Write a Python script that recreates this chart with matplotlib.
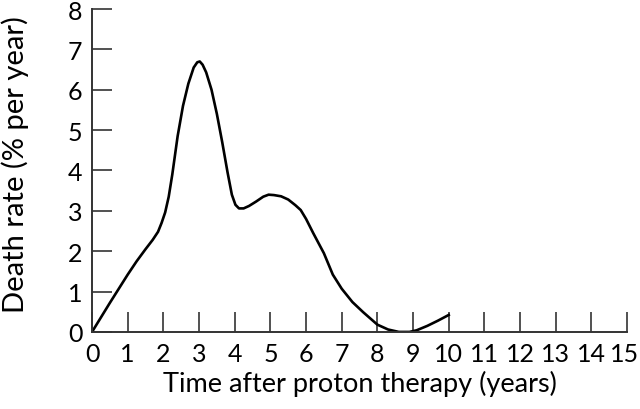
import matplotlib
matplotlib.use("Agg")
import matplotlib.pyplot as plt
from matplotlib.transforms import ScaledTranslation

years = [0, 0.5, 1.0, 1.25, 1.5, 1.7, 1.85, 1.95, 2.05, 2.15, 2.25, 2.4, 2.55,
         2.7, 2.85, 2.95, 3.02, 3.1, 3.2, 3.35, 3.5, 3.65, 3.8, 3.92, 4.02,
         4.12, 4.25, 4.4, 4.6, 4.8, 4.95, 5.1, 5.3, 5.5, 5.7, 5.85, 6.0, 6.2,
         6.5, 6.75, 7.0, 7.3, 7.6, 8.0, 8.3, 8.6, 8.9, 9.1, 9.4, 9.7, 10.0]
death_rate = [0, 0.72, 1.42, 1.75, 2.05, 2.28, 2.48, 2.7, 2.96, 3.35, 3.9,
              4.85, 5.6, 6.15, 6.55, 6.68, 6.7, 6.62, 6.43, 6.0, 5.4, 4.7,
              3.95, 3.4, 3.15, 3.06, 3.06, 3.12, 3.23, 3.35, 3.4, 3.39, 3.36,
              3.28, 3.14, 3.02, 2.8, 2.45, 1.95, 1.42, 1.07, 0.74, 0.49, 0.18,
              0.06, 0.0, 0.0, 0.04, 0.15, 0.28, 0.42]
x_ticks = list(range(0, 16))
y_ticks = list(range(0, 9))

plt.rcParams['font.family'] = ['Lato', 'DejaVu Sans']
fig = plt.figure(figsize=(6.4, 4.1), dpi=100)
ax = fig.add_axes([0.1438, 0.188, 0.836, 0.7876])
ax.plot(years, death_rate, color='black', lw=1.9, solid_joinstyle='round')
ax.set_xlim(0, 15)
ax.set_ylim(0, 8)
ax.set_xticks(x_ticks)
ax.set_yticks(y_ticks)
ax.spines['top'].set_visible(False)
ax.spines['right'].set_visible(False)
for s in ('left', 'bottom'):
    ax.spines[s].set_color('#333333')
    ax.spines[s].set_linewidth(1.4)
ax.tick_params(direction='in', length=14.5, width=1.2, color='#333333',
               labelsize=18, pad=7)
# keep the last x tick label inside the figure edge
last = ax.get_xticklabels()[-1]
last.set_transform(last.get_transform() + ScaledTranslation(-3 / 100, 0, fig.dpi_scale_trans))
ax.set_xlabel('Time after proton therapy (years)', fontsize=19.5, labelpad=4)
ax.set_ylabel('Death rate (% per year)', fontsize=21)
ax.yaxis.set_label_coords(-0.118, 0.52)
fig.savefig('out.png', dpi=100)
